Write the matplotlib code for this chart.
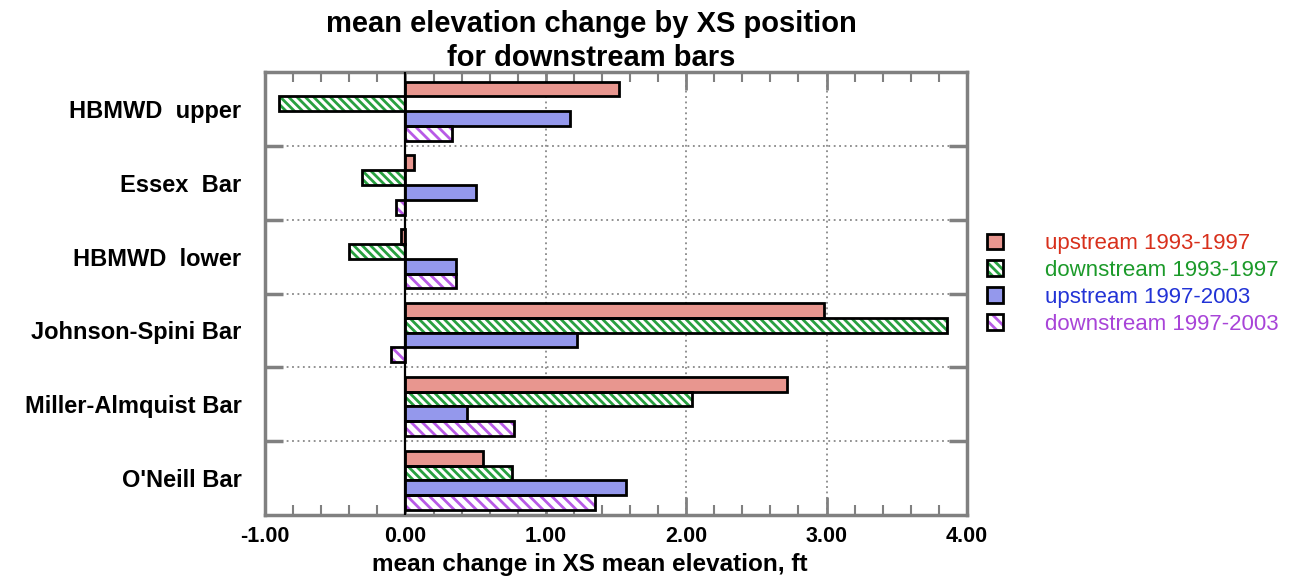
import matplotlib
matplotlib.use('Agg')
import matplotlib.pyplot as plt
from matplotlib.patches import Patch
from matplotlib.legend_handler import HandlerTuple
from matplotlib.ticker import MultipleLocator, FixedLocator
import numpy as np

plt.rcParams['font.family'] = ['Liberation Sans', 'DejaVu Sans']
plt.rcParams['hatch.linewidth'] = 2.0

# mean change in XS mean elevation (ft), per bar, per period
sites = ["HBMWD  upper", "Essex  Bar", "HBMWD  lower", "Johnson-Spini Bar",
         "Miller-Almquist Bar", "O'Neill Bar"]
up_93_97 = [1.52, 0.06, -0.035, 2.98, 2.72, 0.55]
down_93_97 = [-0.90, -0.31, -0.40, 3.86, 2.04, 0.76]
up_97_03 = [1.17, 0.50, 0.36, 1.22, 0.44, 1.57]
down_97_03 = [0.335, -0.065, 0.36, -0.10, 0.775, 1.35]
series_labels = ['upstream 1993-1997', 'downstream 1993-1997',
                 'upstream 1997-2003', 'downstream 1997-2003']

fills = ['#E8968F', 'white', '#9498EC', 'white']
hatches = [None, '\\' * 4, None, '\\' * 3]
hatch_colors = [None, '#28A040', None, '#B85AE6']
text_colors = ['#D8301C', '#1C9A2A', '#2233D6', '#A844D8']

fig = plt.figure(figsize=(12.91, 5.78), dpi=100)
ax = fig.add_axes([0.2053, 0.109, 0.5437, 0.7664])

y = np.arange(len(sites))
h = 0.2
offsets = [-0.27, -0.07, 0.13, 0.33]
handles = []
for k, vals in enumerate([up_93_97, down_93_97, up_97_03, down_97_03]):
    if hatches[k]:
        ax.barh(y + offsets[k], vals, h, color='white', hatch=hatches[k],
                edgecolor=hatch_colors[k], lw=0, zorder=3)
        ax.barh(y + offsets[k], vals, h, fill=False, edgecolor='black', lw=2.0, zorder=4)
        handles.append((Patch(facecolor='white', hatch=hatches[k], edgecolor=hatch_colors[k], lw=0),
                        Patch(fill=False, edgecolor='black', lw=2.0)))
    else:
        ax.barh(y + offsets[k], vals, h, color=fills[k], edgecolor='black', lw=2.0, zorder=4)
        handles.append(Patch(facecolor=fills[k], edgecolor='black', lw=2.0))

ax.axvline(0, color='black', lw=1.6, zorder=5)

ax.set_xlim(-1, 4)
ax.set_ylim(len(sites) - 0.5, -0.5)

ax.xaxis.set_major_locator(MultipleLocator(1))
ax.xaxis.set_minor_locator(MultipleLocator(0.2))
ax.set_xticklabels(['{:.2f}'.format(v) for v in ax.get_xticks()])
ax.yaxis.set_major_locator(FixedLocator(np.arange(0.5, len(sites) - 0.5, 1)))
ax.yaxis.set_minor_locator(FixedLocator(y))
ax.set_yticklabels([], minor=False)
ax.set_yticklabels(sites, minor=True)

ax.tick_params(axis='x', which='major', direction='in', top=True, length=13, width=2,
               color='#808080', labelsize=15.5, pad=8)
ax.tick_params(axis='x', which='minor', direction='in', top=True, length=7, width=1.5,
               color='#808080')
ax.tick_params(axis='y', which='major', direction='in', right=True, length=13, width=2.5,
               color='#808080')
ax.tick_params(axis='y', which='minor', length=0, labelsize=17, pad=17)
for lab in ax.get_xticklabels() + ax.get_yticklabels(minor=True):
    lab.set_fontweight('bold')

ax.grid(True, which='major', color='#888888', ls=(0, (1, 2)), lw=1.3, zorder=1)
for s in ax.spines.values():
    s.set_color('#808080')
    s.set_linewidth(2.5)

ax.set_xlabel('mean change in XS mean elevation, ft', fontsize=17.5, fontweight='bold')
ax.xaxis.set_label_coords(0.462, -0.085)
fig.text(0.458, 0.982, 'mean elevation change by XS position\nfor downstream bars',
         ha='center', va='top', fontsize=21, fontweight='bold', linespacing=1.25)

leg = ax.legend(handles, series_labels, handler_map={tuple: HandlerTuple(ndivide=1)},
                loc='center left', bbox_to_anchor=(967 / 1291, 1 - 284 / 578),
                bbox_transform=fig.transFigure, frameon=False, fontsize=16,
                handlelength=0.72, handleheight=0.72, handletextpad=1.9, labelspacing=0.26)
for t, c in zip(leg.get_texts(), text_colors):
    t.set_color(c)

fig.savefig('out.png', dpi=100)
